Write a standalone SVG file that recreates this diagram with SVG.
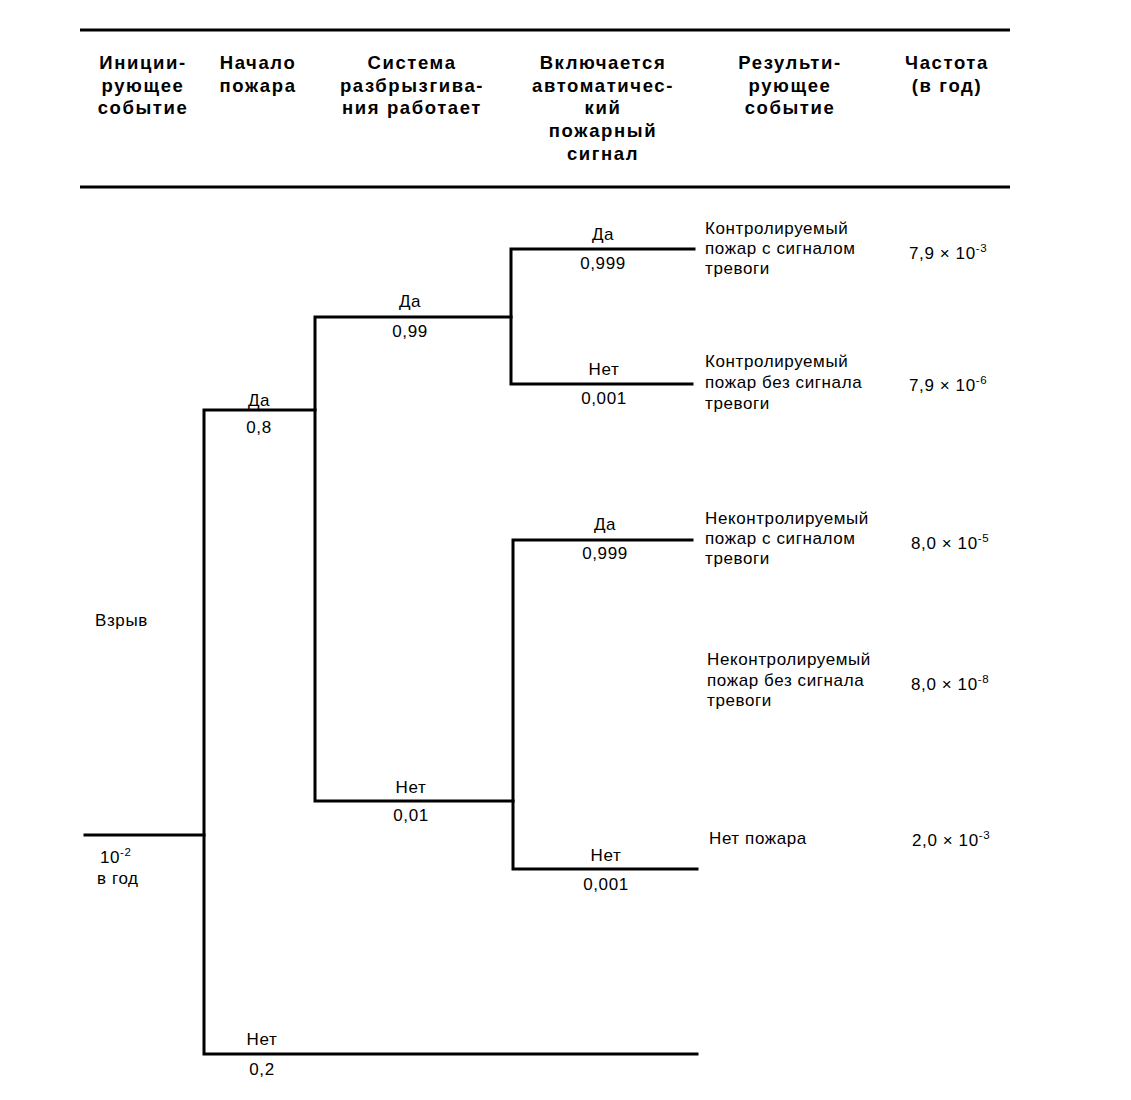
<svg xmlns="http://www.w3.org/2000/svg" width="1131" height="1100" viewBox="0 0 1131 1100">
<style>
.h{font-family:"Liberation Sans",Arial,sans-serif;font-weight:bold;font-size:18.5px;letter-spacing:1.6px;text-anchor:middle;fill:#000}
.t{font-family:"Liberation Sans",Arial,sans-serif;font-size:17px;letter-spacing:0.6px;fill:#000}
.c{text-anchor:middle}
.ln{stroke:#000;stroke-width:3;fill:none;stroke-linecap:square}
.rule{stroke:#000;stroke-width:3}
</style>
<rect width="1131" height="1100" fill="#fff"/>
<g id="header">
<line class="rule" x1="80" y1="30" x2="1010" y2="30"/>
<line class="rule" x1="80" y1="187" x2="1010" y2="187"/>
<text class="h" x="143" y="69">Иниции-<tspan x="143" y="92">рующее</tspan><tspan x="143" y="114">событие</tspan></text>
<text class="h" x="258" y="69">Начало<tspan x="258" y="92">пожара</tspan></text>
<text class="h" x="412" y="69">Система<tspan x="412" y="92">разбрызгива-</tspan><tspan x="412" y="114">ния работает</tspan></text>
<text class="h" x="603" y="69">Включается<tspan x="603" y="92">автоматичес-</tspan><tspan x="603" y="114">кий</tspan><tspan x="603" y="137">пожарный</tspan><tspan x="603" y="160">сигнал</tspan></text>
<text class="h" x="790" y="69">Результи-<tspan x="790" y="92">рующее</tspan><tspan x="790" y="114">событие</tspan></text>
<text class="h" x="947" y="69">Частота<tspan x="947" y="92">(в год)</tspan></text>
</g>
<g id="connectors">
<polyline class="ln" points="85,835 204,835"/>
<polyline class="ln" points="315,410 204,410 204,1054 697,1054"/>
<polyline class="ln" points="511,317 315,317 315,801 513,801"/>
<polyline class="ln" points="694,249 511,249 511,384 692,384"/>
<polyline class="ln" points="692,540 513,540 513,869 697,869"/>
</g>
<g id="initiating">
<text class="t" x="95" y="626">Взрыв</text>
<text class="t" x="100" y="863">10<tspan dy="-7" font-size="11.5">-2</tspan></text>
<text class="t" x="97" y="884">в год</text>
</g>
<g id="fire-start">
<text class="t c" x="259" y="406">Да</text>
<text class="t c" x="259" y="433">0,8</text>
<text class="t c" x="262" y="1045">Нет</text>
<text class="t c" x="262" y="1075">0,2</text>
</g>
<g id="sprinkler">
<text class="t c" x="410" y="307">Да</text>
<text class="t c" x="410" y="337">0,99</text>
<text class="t c" x="411" y="793">Нет</text>
<text class="t c" x="411" y="821">0,01</text>
</g>
<g id="alarm">
<text class="t c" x="603" y="240">Да</text>
<text class="t c" x="603" y="269">0,999</text>
<text class="t c" x="604" y="375">Нет</text>
<text class="t c" x="604" y="404">0,001</text>
<text class="t c" x="605" y="530">Да</text>
<text class="t c" x="605" y="559">0,999</text>
<text class="t c" x="606" y="861">Нет</text>
<text class="t c" x="606" y="890">0,001</text>
</g>
<g id="outcome1">
<text class="t" x="705" y="234">Контролируемый<tspan x="705" y="254">пожар с сигналом</tspan><tspan x="705" y="274">тревоги</tspan></text>
<text class="t" x="909" y="259">7,9 × 10<tspan dy="-7" font-size="11.5">-3</tspan></text>
</g>
<g id="outcome2">
<text class="t" x="705" y="367">Контролируемый<tspan x="705" y="388">пожар без сигнала</tspan><tspan x="705" y="409">тревоги</tspan></text>
<text class="t" x="909" y="391">7,9 × 10<tspan dy="-7" font-size="11.5">-6</tspan></text>
</g>
<g id="outcome3">
<text class="t" x="705" y="524">Неконтролируемый<tspan x="705" y="544">пожар с сигналом</tspan><tspan x="705" y="564">тревоги</tspan></text>
<text class="t" x="911" y="549">8,0 × 10<tspan dy="-7" font-size="11.5">-5</tspan></text>
</g>
<g id="outcome4">
<text class="t" x="707" y="665">Неконтролируемый<tspan x="707" y="686">пожар без сигнала</tspan><tspan x="707" y="706">тревоги</tspan></text>
<text class="t" x="911" y="690">8,0 × 10<tspan dy="-7" font-size="11.5">-8</tspan></text>
</g>
<g id="outcome5">
<text class="t" x="709" y="844">Нет пожара</text>
<text class="t" x="912" y="846">2,0 × 10<tspan dy="-7" font-size="11.5">-3</tspan></text>
</g>
</svg>
